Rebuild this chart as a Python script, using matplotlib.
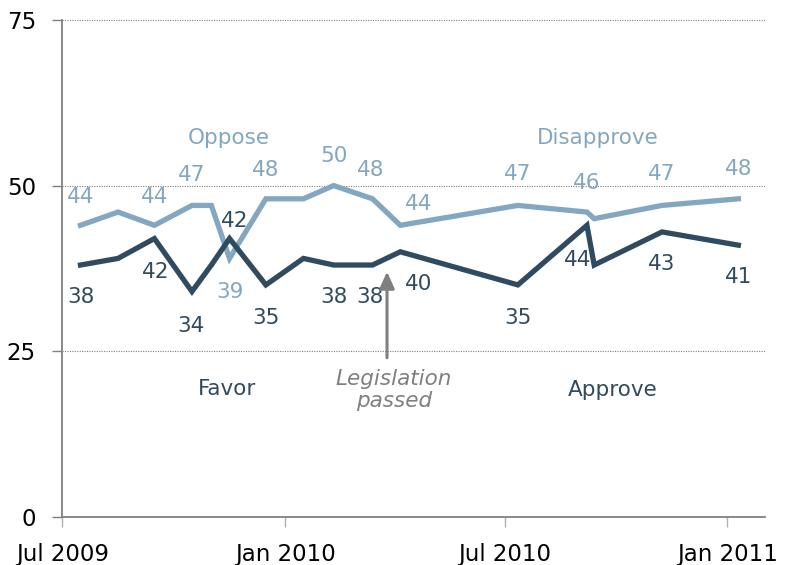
import datetime as dt

import matplotlib
matplotlib.use('Agg')
import matplotlib.pyplot as plt

# survey dates
dates = [dt.date(2009, 7, 16), dt.date(2009, 8, 16), dt.date(2009, 9, 15),
         dt.date(2009, 10, 16), dt.date(2009, 11, 1), dt.date(2009, 11, 16),
         dt.date(2009, 12, 16), dt.date(2010, 1, 16), dt.date(2010, 2, 10),
         dt.date(2010, 3, 14), dt.date(2010, 4, 6), dt.date(2010, 7, 12),
         dt.date(2010, 9, 7), dt.date(2010, 9, 13), dt.date(2010, 11, 8),
         dt.date(2011, 1, 10)]
favor = [38, 39, 42, 34, 38, 42, 35, 39, 38, 38, 40, 35, 44, 38, 43, 41]
oppose = [44, 46, 44, 47, 47, 39, 48, 48, 50, 48, 44, 47, 46, 45, 47, 48]

# which points get a number, and where it sits (offset in px: dx, dy up)
favor_labels = {0: (0, -32), 2: (1, -33), 3: (-1, -34), 5: (5, 18),
                6: (0, -33), 8: (0, -32), 9: (-2, -32), 10: (18, -32),
                11: (0, -33), 12: (-9, -35), 14: (0, -32), 15: (0, -32)}
oppose_labels = {0: (0, 28), 2: (0, 28), 3: (0, 30), 5: (0, -34),
                 6: (0, 29), 8: (0, 30), 9: (-2, 29), 10: (18, 21),
                 11: (0, 31), 12: (0, 29), 14: (0, 31), 15: (0, 30)}

event_date = dt.date(2010, 3, 26)
yticks = [0, 25, 50, 75]
xticks = [dt.date(2009, 7, 1), dt.date(2010, 1, 1), dt.date(2010, 7, 1),
          dt.date(2011, 1, 1)]
xtick_labels = ['Jul 2009', 'Jan 2010', 'Jul 2010', 'Jan 2011']

DARK = '#304b5f'
LIGHT = '#84a7c1'
GREY = '#808080'
FS = 15.5

plt.rcParams['font.family'] = ['DejaVu Sans']

fig = plt.figure(figsize=(7.86, 5.65), dpi=100)
ax = fig.add_axes([0.0793, 0.0855, 0.9733 - 0.0793, 0.9646 - 0.0855])

ax.plot(dates, oppose, color=LIGHT, lw=3.8, solid_joinstyle='miter', zorder=3)
ax.plot(dates, favor, color=DARK, lw=3.8, solid_joinstyle='miter', zorder=4)

px = 0.72  # px -> points at dpi 100
for i, (dx, dy) in favor_labels.items():
    ax.annotate(str(favor[i]), (dates[i], favor[i]), xytext=(dx * px, dy * px),
                textcoords='offset points', ha='center', va='center',
                fontsize=FS, color=DARK)
for i, (dx, dy) in oppose_labels.items():
    ax.annotate(str(oppose[i]), (dates[i], oppose[i]), xytext=(dx * px, dy * px),
                textcoords='offset points', ha='center', va='center',
                fontsize=FS, color=LIGHT)

# series names
ax.text(dt.date(2009, 11, 15), 57.2, 'Oppose', ha='center', va='center',
        fontsize=FS, color=LIGHT)
ax.text(dt.date(2010, 9, 16), 57.2, 'Disapprove', ha='center', va='center',
        fontsize=FS, color=LIGHT)
ax.text(dt.date(2009, 11, 14), 19.3, 'Favor', ha='center', va='center',
        fontsize=FS, color=DARK)
ax.text(dt.date(2010, 9, 28), 19.1, 'Approve', ha='center', va='center',
        fontsize=FS, color=DARK)

# legislation arrow
ax.annotate('', xy=(event_date, 37.0), xytext=(event_date, 24.0),
            arrowprops=dict(arrowstyle='-|>,head_width=0.45,head_length=1.0',
                            color=GREY, lw=2.2, shrinkA=0, shrinkB=0))
ax.annotate('Legislation\npassed', (event_date, 19.1), xytext=(5, 0),
            textcoords='offset points', ha='center', va='center',
            fontsize=FS, color=GREY, style='italic', linespacing=1.15)

ax.set_ylim(0, 75)
ax.set_xlim(dt.date(2009, 7, 1), dt.date(2011, 2, 1))
ax.set_yticks(yticks)
ax.set_xticks(xticks)
ax.set_xticklabels(xtick_labels)
ax.tick_params(axis='y', length=7, width=1, color=GREY, labelsize=16.5,
               pad=12, labelcolor='black')
ax.tick_params(axis='x', length=7, width=1, color='#b0b0b0', labelsize=16.5,
               pad=12, labelcolor='black')

for y in yticks[1:]:
    ax.axhline(y, color='#808080', lw=0.8, ls=(0, (1, 1.2)), zorder=1,
               clip_on=False)

for side in ['top', 'right']:
    ax.spines[side].set_visible(False)
for side in ['left', 'bottom']:
    ax.spines[side].set_color(GREY)
    ax.spines[side].set_linewidth(1.3)

fig.savefig('out.png', dpi=100)
